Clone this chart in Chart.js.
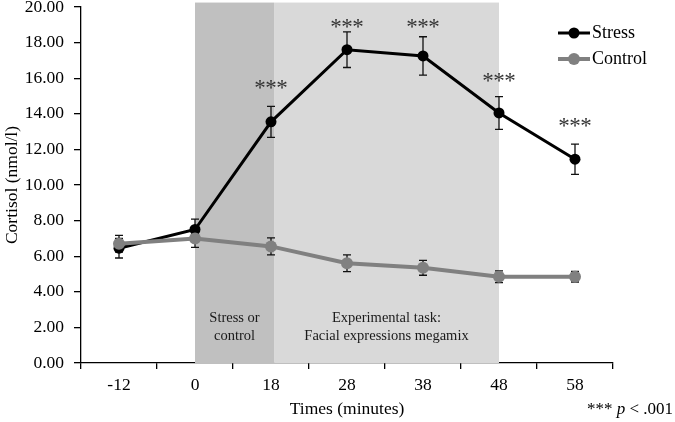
<!DOCTYPE html>
<html>
  <head>
    <meta charset="UTF-8">
    <title>Cortisol</title>
    <script src="https://cdn.jsdelivr.net/npm/chart.js"></script>
    <style>
      html, body { margin: 0; padding: 0; background: #fff; }
      #wrap { width: 675px; height: 422px; }
    </style>
  </head>
  <body>
    <div id="wrap"><canvas id="myChart" width="675" height="422"></canvas></div>
    <script>
      // data
      const categories = ['-12', '0', '18', '28', '38', '48', '58'];
      const stressMean = [6.45, 7.5, 13.55, 17.6, 17.25, 14.05, 11.45];
      const stressErr = [0.55, 0.58, 0.87, 1.0, 1.08, 0.92, 0.85];
      const controlMean = [6.7, 7.0, 6.55, 5.6, 5.35, 4.85, 4.85];
      const controlErr = [0.47, 0.5, 0.48, 0.47, 0.42, 0.33, 0.3];
      const sigStars = ['', '', '***', '***', '***', '***', '***'];
      const starLevel = [null, null, 15.75, 19.15, 19.15, 16.1, 13.6];
      const yTicks = [0, 2, 4, 6, 8, 10, 12, 14, 16, 18, 20];

      const serif = "'Liberation Serif', 'Times New Roman', serif";

      // shaded phases (category index units)
      const phases = [
        { from: 1, to: 2.04, color: '#c0c0c0', text: ['Stress or', 'control'] },
        { from: 2.04, to: 5, color: '#d9d9d9', text: ['Experimental task:', 'Facial expressions megamix'] }
      ];

      const errors = [stressErr, controlErr];

      const backdrop = {
        id: 'backdrop',
        beforeDatasetsDraw(chart) {
          const { ctx, scales: { x, y } } = chart;
          ctx.save();
          phases.forEach(p => {
            const x0 = x.getPixelForValue(p.from);
            const x1 = x.getPixelForValue(p.to);
            const top = y.getPixelForValue(20.25);
            ctx.fillStyle = p.color;
            ctx.fillRect(x0, top, x1 - x0, y.bottom - top);
            ctx.fillStyle = '#1a1a1a';
            ctx.font = '14.5px ' + serif;
            ctx.textAlign = 'center';
            ctx.textBaseline = 'middle';
            p.text.forEach((t, i) => ctx.fillText(t, (x0 + x1) / 2, y.bottom - 45 + i * 18));
          });
          // error bars, under the markers
          ctx.strokeStyle = '#111';
          ctx.lineWidth = 1.3;
          chart.data.datasets.forEach((ds, di) => {
            const meta = chart.getDatasetMeta(di);
            meta.data.forEach((pt, i) => {
              const hi = y.getPixelForValue(ds.data[i] + errors[di][i]);
              const lo = y.getPixelForValue(ds.data[i] - errors[di][i]);
              ctx.beginPath();
              ctx.moveTo(pt.x, hi); ctx.lineTo(pt.x, lo);
              ctx.moveTo(pt.x - 4, hi); ctx.lineTo(pt.x + 4, hi);
              ctx.moveTo(pt.x - 4, lo); ctx.lineTo(pt.x + 4, lo);
              ctx.stroke();
            });
          });
          ctx.restore();
        },
        afterDatasetsDraw(chart) {
          const { ctx, scales: { x, y } } = chart;
          ctx.save();
          ctx.fillStyle = '#333';
          ctx.font = '23px ' + serif;
          ctx.textAlign = 'center';
          ctx.textBaseline = 'alphabetic';
          sigStars.forEach((s, i) => {
            if (!s) return;
            const cx = x.getPixelForValue(i);
            const cy = y.getPixelForValue(starLevel[i]) + 12;
            [...s].forEach((c, k) => ctx.fillText(c, cx + (k - 1) * 11, cy));
          });

          // legend
          ctx.font = '18px ' + serif;
          ctx.textAlign = 'left';
          ctx.textBaseline = 'middle';
          chart.data.datasets.forEach((ds, i) => {
            const ly = 33 + i * 26;
            ctx.strokeStyle = ds.borderColor;
            ctx.lineWidth = ds.borderWidth;
            ctx.beginPath();
            ctx.moveTo(558, ly); ctx.lineTo(590, ly);
            ctx.stroke();
            ctx.fillStyle = ds.pointBackgroundColor;
            ctx.beginPath();
            ctx.arc(574, ly, ds.pointRadius, 0, Math.PI * 2);
            ctx.fill();
            ctx.fillStyle = '#000';
            ctx.fillText(ds.label, 592, ly);
          });

          // footnote
          ctx.font = '17px ' + serif;
          ctx.textAlign = 'right';
          const tail = ' < .001';
          const wTail = ctx.measureText(tail).width;
          ctx.fillText(tail, 673, 410);
          ctx.font = 'italic 17px ' + serif;
          const wp = ctx.measureText('p').width;
          ctx.fillText('p', 673 - wTail, 410);
          ctx.font = '17px ' + serif;
          ctx.fillText('*** ', 673 - wTail - wp, 410);
          ctx.restore();
        }
      };

      const ctx = document.getElementById('myChart').getContext('2d');
      new Chart(ctx, {
        type: 'line',
        data: {
          labels: categories,
          datasets: [{
            label: 'Stress',
            data: stressMean,
            borderColor: '#000',
            backgroundColor: '#000',
            pointBackgroundColor: '#000',
            pointBorderWidth: 0,
            borderWidth: 3,
            pointRadius: 5.5,
            order: 1
          }, {
            label: 'Control',
            data: controlMean,
            borderColor: '#808080',
            backgroundColor: '#808080',
            pointBackgroundColor: '#808080',
            pointBorderWidth: 0,
            borderWidth: 4,
            pointRadius: 6,
            order: 0
          }]
        },
        options: {
          responsive: false,
          animation: false,
          clip: false,
          layout: { padding: { top: 7, right: 62, left: 0, bottom: 0 } },
          plugins: { legend: { display: false }, tooltip: { enabled: false } },
          scales: {
            x: {
              offset: true,
              grid: { offset: true, drawOnChartArea: false, color: '#000', tickLength: 6, lineWidth: 1.3 },
              border: { color: '#000', width: 1.3 },
              ticks: { color: '#000', font: { family: serif, size: 17.5 }, padding: 6, maxRotation: 0 },
              title: { display: true, text: 'Times (minutes)', color: '#000', font: { family: serif, size: 17.5 }, padding: { top: 2, bottom: 2 } },
              afterFit(s) { s.height = 59; s.paddingLeft = 0; s.paddingRight = 0; }
            },
            y: {
              min: 0,
              max: 20,
              afterBuildTicks(s) { s.ticks = yTicks.map(v => ({ value: v })); },
              grid: { drawOnChartArea: false, color: '#000', tickLength: 7, lineWidth: 1.3 },
              border: { color: '#000', width: 1.3 },
              ticks: { color: '#000', font: { family: serif, size: 17.5 }, padding: 10, callback: v => v.toFixed(2) },
              title: { display: true, text: 'Cortisol (nmol/l)', color: '#000', font: { family: serif, size: 17.5 }, padding: { top: 2, bottom: 2 } },
              afterFit(s) { s.width = 81; s.paddingTop = 0; s.paddingBottom = 0; }
            }
          }
        },
        plugins: [backdrop]
      });
    </script>
  </body>
</html>
